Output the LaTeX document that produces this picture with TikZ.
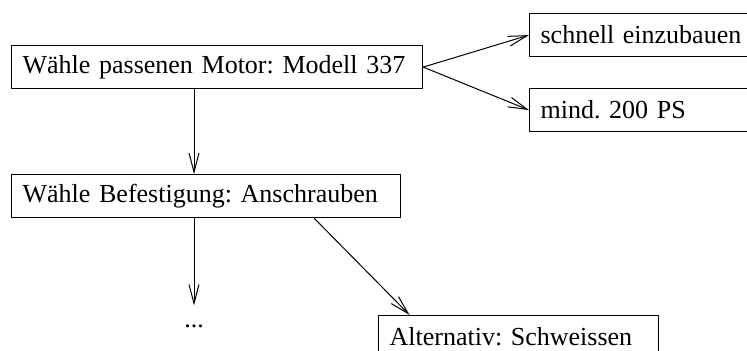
\documentclass[tikz,border=0pt]{standalone}
\usepackage{fontspec}
\setmainfont{Liberation Serif}
\usetikzlibrary{arrows.meta}
\frenchspacing
\begin{document}
\begin{tikzpicture}[x=0.5pt,y=-0.5pt,
  box/.style={draw, line width=0.6pt, anchor=north west, inner xsep=5.5pt,
    inner ysep=0pt, minimum height=21.5pt, align=left, text width=#1,
    font=\fontsize{13}{15.6}\selectfont},
  arr/.style={line width=0.5pt, -{Straight Barb[length=9.5pt,width=5pt]}}]
\clip (0,0) rectangle (747,351);
\node[box=194.5pt] (motor) at (11,45) {Wähle passenen Motor: Modell 337};
\node[box=104.5pt] (schnell) at (529,13) {schnell einzubauen};
\node[box=104.5pt] (ps) at (529,88) {mind. 200 PS};
\node[box=183.5pt] (befest) at (11,174) {Wähle Befestigung: Anschrauben};
\node[box=129pt] (alt) at (378,315) {Alternativ: Schweissen};
\node[anchor=base, inner sep=2pt, text height=9.1pt,
  font=\fontsize{13}{15.6}\selectfont] (dots) at (194,328) {...};
\draw[arr] (motor.east) -- (schnell.west);
\draw[arr] (motor.east) -- (ps.west);
\draw[arr] (motor.south -| dots) -- (befest.north -| dots);
\draw[arr] (befest.south -| dots) -- (dots.north);
\draw[arr] ([xshift=54pt]befest.south) -- ([xshift=-54.5pt]alt.north);
\end{tikzpicture}
\end{document}
